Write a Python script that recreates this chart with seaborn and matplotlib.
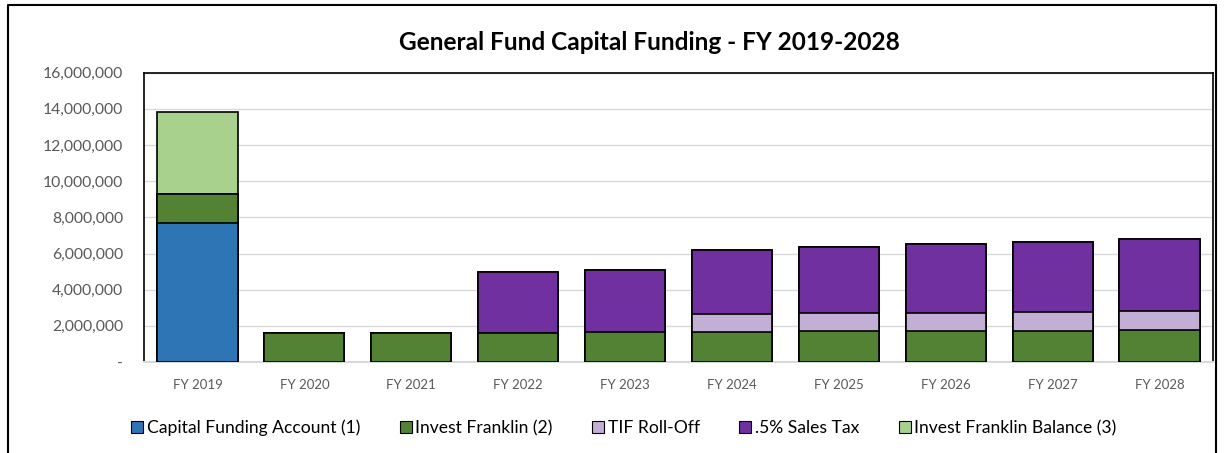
import numpy as np
import pandas as pd
import matplotlib
matplotlib.use("Agg")
import matplotlib.pyplot as plt
from matplotlib.lines import Line2D
import seaborn as sns

years = ["FY 2019", "FY 2020", "FY 2021", "FY 2022", "FY 2023",
         "FY 2024", "FY 2025", "FY 2026", "FY 2027", "FY 2028"]

capital_funding = [7670000, 0, 0, 0, 0, 0, 0, 0, 0, 0]
invest_franklin = [1600000, 1600000, 1620000, 1620000, 1650000,
                   1670000, 1690000, 1710000, 1730000, 1750000]
tif_rolloff = [0, 0, 0, 0, 0, 980000, 1000000, 1010000, 1030000, 1080000]
sales_tax = [0, 0, 0, 3360000, 3440000, 3570000, 3650000, 3810000, 3900000, 3970000]
if_balance = [4580000, 0, 0, 0, 0, 0, 0, 0, 0, 0]

series = ["Capital Funding Account (1)", "Invest Franklin (2)", "TIF Roll-Off",
          ".5% Sales Tax", "Invest Franklin Balance (3)"]
colors = ["#2E75B6", "#548235", "#C3AED6", "#7030A0", "#A9D18E"]

df = pd.DataFrame({
    "year": years,
    series[0]: capital_funding,
    series[1]: invest_franklin,
    series[2]: tif_rolloff,
    series[3]: sales_tax,
    series[4]: if_balance,
})
# running totals, bottom layer first
cum = df[series].cumsum(axis=1)
cum = cum.where(cum > 0)
cum["year"] = df["year"]

plt.rcParams["font.family"] = ["Lato", "DejaVu Sans"]
fig = plt.figure(figsize=(12.32, 4.53), dpi=100)
ax = fig.add_axes([0.1169, 0.2009, 0.8677, 0.6386])

# draw tallest stack first, then overlay lower totals
for name, col in reversed(list(zip(series, colors))):
    sns.barplot(data=cum, x="year", y=name, color=col, width=0.75,
                edgecolor="black", linewidth=1.2, saturation=1, ax=ax, zorder=3)

ax.set_ylim(0, 16000000)
ax.set_yticks(np.arange(0, 16000001, 2000000))
ax.set_yticklabels(["-"] + [f"{v:,}" for v in range(2000000, 16000001, 2000000)])
ax.set_xlabel("")
ax.set_ylabel("")
ax.grid(axis="y", color="#D9D9D9", linewidth=1, zorder=0)
ax.set_axisbelow(True)
ax.tick_params(axis="both", length=0, colors="#595959")
ax.tick_params(axis="x", pad=12, labelsize=9.5)
ax.tick_params(axis="y", pad=15, labelsize=11.3)
for side in ["top", "left", "right"]:
    ax.spines[side].set_color("black")
    ax.spines[side].set_linewidth(1.2)
ax.spines["bottom"].set_color("#D9D9D9")
ax.spines["bottom"].set_linewidth(1.5)

fig.text(0.527, 0.907, "General Fund Capital Funding - FY 2019-2028",
         ha="center", va="center", fontsize=17.6, fontweight="bold")

handles = [Line2D([0], [0], marker="s", linestyle="", markersize=9,
                  markerfacecolor=c, markeredgecolor="black", markeredgewidth=0.8)
           for c in colors]
fig.legend(handles, series, loc="center", bbox_to_anchor=(0.506, 0.055), ncol=5,
           frameon=False, fontsize=12.6, handlelength=0.8, handletextpad=0.15,
           columnspacing=2.2)

# outer chart border
fig.add_artist(Line2D([8 / 1232, 8 / 1232, 1216 / 1232, 1216 / 1232],
                      [-0.1, 1 - 5 / 453, 1 - 5 / 453, -0.1],
                      transform=fig.transFigure, color="black", linewidth=1.5))

fig.savefig("out.png", dpi=100, facecolor="white")
